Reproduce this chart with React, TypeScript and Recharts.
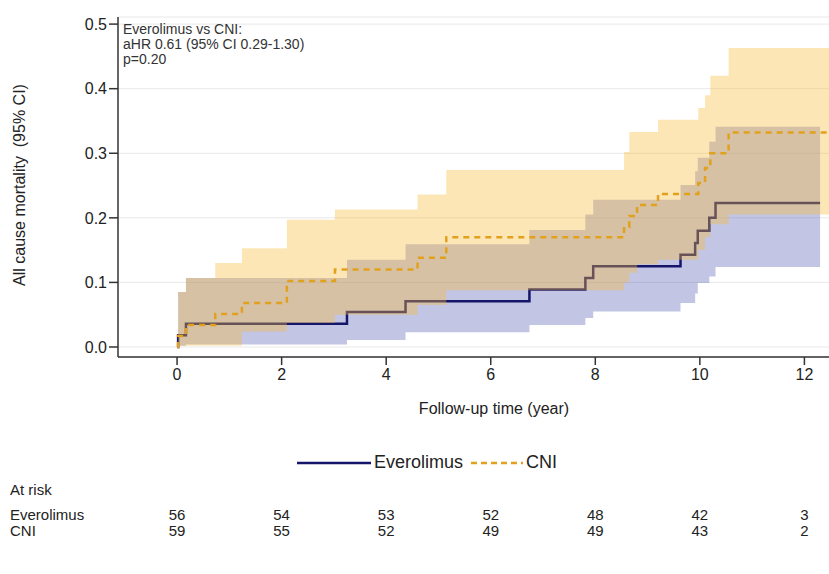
import React from 'react';
import {
  ComposedChart,
  Area,
  Line,
  XAxis,
  YAxis,
  CartesianGrid
} from 'recharts';

// Everolimus cumulative mortality (step estimate + 95% CI)
const evTimes = [0, 0.02, 0.17, 3.25, 4.37, 6.74, 7.81, 7.96, 9.63, 9.91, 9.96, 10.18, 10.3, 12.3];
const evEst = [0, 0.018, 0.036, 0.054, 0.071, 0.089, 0.107, 0.125, 0.143, 0.161, 0.18, 0.2, 0.223, 0.223];
const evLow = [0, 0.002, 0.004, 0.011, 0.023, 0.034, 0.045, 0.055, 0.068, 0.083, 0.099, 0.109, 0.124, 0.124];
const evHigh = [0, 0.085, 0.107, 0.135, 0.159, 0.181, 0.205, 0.228, 0.251, 0.272, 0.293, 0.318, 0.341, 0.341];

// CNI cumulative mortality (step estimate + 95% CI)
const cniTimes = [0, 0.02, 0.17, 0.73, 1.24, 2.1, 3.02, 4.6, 5.15, 8.55, 8.65, 8.8, 9.2, 9.97, 10.1, 10.2, 10.55, 12.7];
const cniEst = [0, 0.017, 0.034, 0.051, 0.068, 0.102, 0.12, 0.138, 0.17, 0.186, 0.203, 0.22, 0.237, 0.254, 0.277, 0.3, 0.332, 0.332];
const cniLow = [0, 0.002, 0.002, 0.002, 0.024, 0.037, 0.05, 0.065, 0.088, 0.1, 0.115, 0.128, 0.135, 0.15, 0.17, 0.19, 0.205, 0.205];
const cniHigh = [0, 0.085, 0.107, 0.13, 0.153, 0.197, 0.213, 0.236, 0.274, 0.302, 0.333, 0.333, 0.352, 0.37, 0.39, 0.42, 0.463, 0.463];

// axes
const xTicks = [0, 2, 4, 6, 8, 10, 12];
const yTicks = [0, 0.1, 0.2, 0.3, 0.4, 0.5];

// number at risk
const riskTimes = [0, 2, 4, 6, 8, 10, 12];
const riskEv = [56, 54, 53, 52, 48, 42, 3];
const riskCni = [59, 55, 52, 49, 49, 43, 2];

const FONT = 'Arial, "Liberation Sans", Helvetica, sans-serif';
const EV_LINE = '#15156a';
const EV_BAND = '#5a5fb4';
const CNI_LINE = '#e2a11c';
const CNI_BAND = '#f8bb3a';

const X_MIN = -1.13;
const X_MAX = 12.7;
const PLOT_LEFT = 118;
const PLOT_W = 723;
const xPos = (t: number) => PLOT_LEFT + ((t - X_MIN) / (X_MAX - X_MIN)) * PLOT_W;

const evData = evTimes.map((t, i) => ({ t, est: evEst[i], ci: [evLow[i], evHigh[i]] }));
const cniData = cniTimes.map((t, i) => ({ t, est: cniEst[i], ci: [cniLow[i], cniHigh[i]] }));

export default function App() {
  return (
    <div style={styles.page}>
      <ComposedChart
        width={846}
        height={395}
        margin={{ top: 17, right: 5, left: 58, bottom: 8 }}
      >
        <CartesianGrid vertical={false} stroke="#e8e8e8" strokeWidth={1} />
        <XAxis
          dataKey="t"
          type="number"
          domain={[X_MIN, X_MAX]}
          ticks={xTicks}
          allowDataOverflow
          height={30}
          tickSize={8}
          stroke="#333"
          strokeWidth={1.5}
          tick={{ fontSize: 16, fill: '#222', fontFamily: FONT, dy: 2 }}
        />
        <XAxis
          xAxisId="top"
          orientation="top"
          type="number"
          domain={[X_MIN, X_MAX]}
          tick={false}
          tickLine={false}
          height={0}
          stroke="#333"
          strokeWidth={1.5}
        />
        <YAxis
          type="number"
          domain={[-0.0155, 0.511]}
          ticks={yTicks}
          allowDataOverflow
          width={60}
          tickSize={9}
          stroke="#333"
          strokeWidth={1.5}
          tickFormatter={(v: number) => v.toFixed(1)}
          tick={{ fontSize: 16, fill: '#222', fontFamily: FONT }}
        />
        {/* blue band, then the Everolimus step line, then the orange band over both */}
        <Area
          data={evData}
          dataKey="ci"
          type="stepAfter"
          stroke="none"
          fill={EV_BAND}
          fillOpacity={0.36}
          isAnimationActive={false}
          dot={false}
          activeDot={false}
        />
        <Area
          data={evData}
          dataKey="est"
          type="stepAfter"
          stroke={EV_LINE}
          strokeWidth={2.5}
          fill="none"
          isAnimationActive={false}
          dot={false}
          activeDot={false}
        />
        <Area
          data={cniData}
          dataKey="ci"
          type="stepAfter"
          stroke="none"
          fill={CNI_BAND}
          fillOpacity={0.37}
          isAnimationActive={false}
          dot={false}
          activeDot={false}
        />
        <Line
          data={cniData}
          dataKey="est"
          type="stepAfter"
          stroke={CNI_LINE}
          strokeWidth={2.5}
          strokeDasharray="6 5"
          dot={false}
          activeDot={false}
          isAnimationActive={false}
        />
      </ComposedChart>

      <div style={styles.annotation}>
        <div>Everolimus vs CNI:</div>
        <div>aHR 0.61 (95% CI 0.29-1.30)</div>
        <div>p=0.20</div>
      </div>

      <div style={styles.yLabel}>All cause mortality&nbsp;&nbsp;(95% CI)</div>
      <div style={styles.xLabel}>Follow-up time (year)</div>

      <div style={styles.legend}>
        <svg width={74} height={10}>
          <line x1={0} y1={5} x2={74} y2={5} stroke={EV_LINE} strokeWidth={2.5} />
        </svg>
        <span style={{ marginLeft: 3, marginRight: 8 }}>Everolimus</span>
        <svg width={52} height={10}>
          <line x1={0} y1={5} x2={52} y2={5} stroke={CNI_LINE} strokeWidth={2.5} strokeDasharray="6 4" />
        </svg>
        <span style={{ marginLeft: 3 }}>CNI</span>
      </div>

      <div style={{ ...styles.tableText, top: 481 }}>At risk</div>
      <div style={{ ...styles.tableText, top: 506 }}>Everolimus</div>
      <div style={{ ...styles.tableText, top: 522 }}>CNI</div>
      {riskTimes.map((t, i) => (
        <React.Fragment key={t}>
          <div style={{ ...styles.riskNum, left: xPos(t) - 20, top: 506 }}>{riskEv[i]}</div>
          <div style={{ ...styles.riskNum, left: xPos(t) - 20, top: 522 }}>{riskCni[i]}</div>
        </React.Fragment>
      ))}
    </div>
  );
}

const styles = {
  page: {
    position: 'absolute',
    left: 0,
    top: 0,
    width: 829,
    height: 574,
    overflow: 'hidden',
    background: '#ffffff',
    fontFamily: FONT,
    color: '#222',
  } as React.CSSProperties,
  annotation: {
    position: 'absolute',
    left: 123,
    top: 22,
    fontSize: 14,
    lineHeight: '15px',
    color: '#333',
  } as React.CSSProperties,
  yLabel: {
    position: 'absolute',
    left: 20,
    top: 185,
    fontSize: 16,
    whiteSpace: 'nowrap',
    transform: 'translate(-50%, -50%) rotate(-90deg)',
  } as React.CSSProperties,
  xLabel: {
    position: 'absolute',
    left: 494,
    top: 409,
    fontSize: 16,
    whiteSpace: 'nowrap',
    transform: 'translate(-50%, -50%)',
  } as React.CSSProperties,
  legend: {
    position: 'absolute',
    left: 297,
    top: 452,
    display: 'flex',
    alignItems: 'center',
    fontSize: 18,
    whiteSpace: 'nowrap',
  } as React.CSSProperties,
  tableText: {
    position: 'absolute',
    left: 10,
    fontSize: 15,
    lineHeight: '17px',
    whiteSpace: 'nowrap',
  } as React.CSSProperties,
  riskNum: {
    position: 'absolute',
    width: 40,
    textAlign: 'center' as const,
    fontSize: 15,
    lineHeight: '17px',
  } as React.CSSProperties,
};
